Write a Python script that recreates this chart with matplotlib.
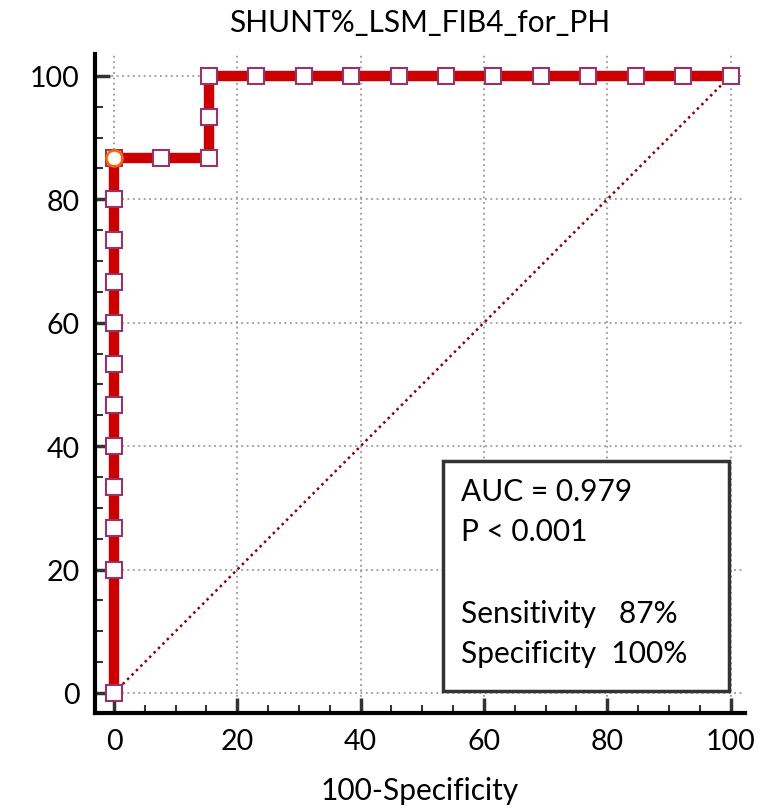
import matplotlib.pyplot as plt
from matplotlib.ticker import MultipleLocator

# ROC points (100-Specificity, Sensitivity)
fpr = [0, 0, 0, 0, 0, 0, 0, 0, 0, 0, 0, 0,
       7.69, 15.38, 15.38, 15.38, 23.08, 30.77, 38.46, 46.15,
       53.85, 61.54, 69.23, 76.92, 84.62, 92.31, 100]
tpr = [0, 20, 26.67, 33.33, 40, 46.67, 53.33, 60, 66.67, 73.33, 80, 86.67,
       86.67, 86.67, 93.33, 100, 100, 100, 100, 100,
       100, 100, 100, 100, 100, 100, 100]

# optimal criterion
opt_x, opt_y = 0, 86.67

title = "SHUNT%_LSM_FIB4_for_PH"
xlabel = "100-Specificity"
box_lines = ["AUC = 0.979", "P < 0.001", "", "Sensitivity   87%", "Specificity  100%"]

plt.rcParams['font.family'] = ['Lato', 'DejaVu Sans']

fig = plt.figure(figsize=(7.71, 8.12), dpi=100)
ax = fig.add_axes([0.123, 0.121, 0.843, 0.811])

ax.set_xlim(-3.1, 102.3)
ax.set_ylim(-3.2, 103.5)

# grid only at major ticks
for v in range(0, 101, 20):
    ax.plot([v, v], [-3.2, 103.5], color='#999999', lw=1.3, ls=(0, (1, 2)), zorder=0)
    ax.plot([-3.1, 102.3], [v, v], color='#999999', lw=1.3, ls=(0, (1, 2)), zorder=0)

# diagonal reference line
ax.plot([0, 100], [0, 100], color='#8b0000', lw=1.8, ls=(0, (1, 1.5)), zorder=1)

# ROC curve
ax.plot(fpr, tpr, color='#cc0000', lw=7.5, solid_capstyle='butt', zorder=2)
ax.plot(fpr, tpr, ls='none', marker='s', ms=11, mfc='white', mec='#993366',
        mew=1.5, zorder=3)
ax.plot([opt_x], [opt_y], ls='none', marker='o', ms=11.5, mfc='none',
        mec='#ff6600', mew=1.8, zorder=4)

# text box
ax.add_patch(plt.Rectangle((53.3, 0.3), 46.4, 37.3, fill=True, fc='white',
                           ec='#333333', lw=2.5, zorder=5))
ty = 32.8
for line in box_lines:
    ax.text(56.2, ty, line, fontsize=21.5, va='center', ha='left', zorder=6)
    ty -= 6.6

ax.spines['top'].set_visible(False)
ax.spines['right'].set_visible(False)
ax.spines['left'].set_linewidth(3)
ax.spines['bottom'].set_linewidth(3)

ax.xaxis.set_major_locator(MultipleLocator(20))
ax.yaxis.set_major_locator(MultipleLocator(20))
ax.xaxis.set_minor_locator(MultipleLocator(5))
ax.yaxis.set_minor_locator(MultipleLocator(5))
ax.tick_params(which='major', direction='in', length=11, width=2.5, color='#333333',
               labelsize=20.5, pad=11)
ax.tick_params(which='minor', direction='in', length=6, width=1.5, color='#333333')

ax.set_xlabel(xlabel, fontsize=21.5, labelpad=16)
ax.set_title(title, fontsize=21.5, pad=17)

fig.savefig('out.png', dpi=100)
